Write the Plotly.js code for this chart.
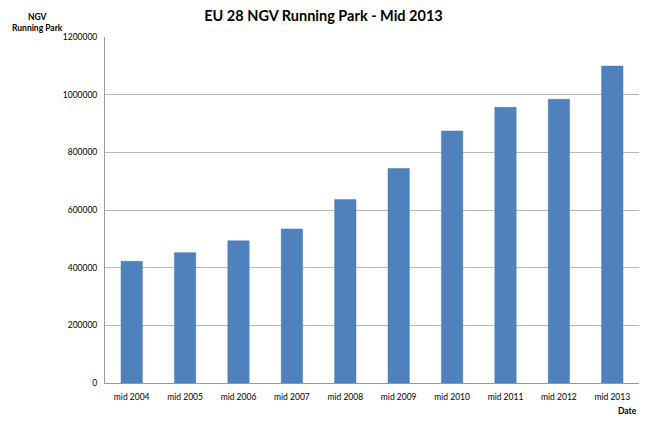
<!DOCTYPE html>
<html>
<head>
<meta charset="utf-8">
<script src="https://cdn.plot.ly/plotly-3.0.1.min.js"></script>
<style>html,body{margin:0;padding:0;background:#fff;}#chart{width:647px;height:422px;}</style>
</head>
<body>
<div id="chart"></div>
<script>
const categories = ["mid 2004","mid 2005","mid 2006","mid 2007","mid 2008","mid 2009","mid 2010","mid 2011","mid 2012","mid 2013"];
const parkValues = [422000, 452000, 493000, 534000, 636000, 744000, 874000, 956000, 984000, 1099000];
const yTicks = [0, 200000, 400000, 600000, 800000, 1000000, 1200000];
const yTickLabels = ["0","200000","400000","600000","800000","1000000","1200000"];

const font = "Lato, 'Open Sans', sans-serif";
Plotly.newPlot("chart", [{
  type: "bar",
  x: categories,
  y: parkValues,
  marker: {color: "#4F81BD", line: {color: "#4A7AB3", width: 0.5}},
  hoverinfo: "x+y"
}], {
  width: 647, height: 422,
  margin: {l: 105, r: 8, t: 37, b: 39},
  paper_bgcolor: "#fff", plot_bgcolor: "#fff",
  bargap: 0.6,
  showlegend: false,
  title: {text: "<b>EU 28 NGV Running Park - Mid 2013</b>", x: 0.5, xref: "container", xanchor: "center", y: 0.975, yanchor: "top",
          font: {family: font, size: 14.5, color: "#000"}},
  xaxis: {type: "category", showgrid: false, showline: true, linecolor: "#999", linewidth: 1,
          ticks: "", ticklabelstandoff: 6, tickfont: {family: font, size: 8.5, color: "#000"}, fixedrange: true},
  yaxis: {range: [0, 1200000], tickvals: yTicks, ticktext: yTickLabels, showgrid: true, gridcolor: "#b8b8b8",
          gridwidth: 1, showline: true, linecolor: "#999", zeroline: false, ticks: "", ticklen: 0,
          ticklabelstandoff: 5, tickfont: {family: font, size: 8.5, color: "#000"}, fixedrange: true},
  annotations: [
    {text: "<b>NGV<br>Running Park</b>", xref: "paper", yref: "paper", x: -0.127, y: 1.043, xanchor: "center", yanchor: "middle",
     showarrow: false, font: {family: font, size: 8.5, color: "#000"}, align: "center"},
    {text: "<b>Date</b>", xref: "paper", yref: "paper", x: 1.0, y: -0.06, xanchor: "right", yanchor: "top",
     showarrow: false, font: {family: font, size: 8.5, color: "#000"}}
  ]
}, {displayModeBar: false, staticPlot: true});
</script>
</body>
</html>
